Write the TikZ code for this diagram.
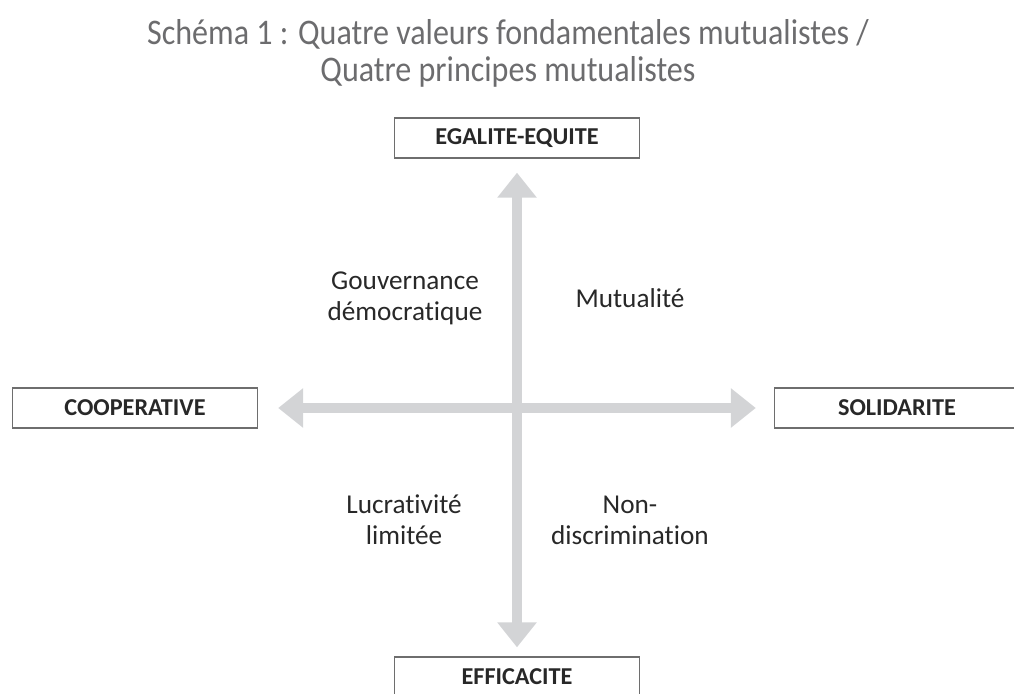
\documentclass[tikz,border=0pt]{standalone}
\usepackage{fontspec}
\setmainfont{Carlito}[Ligatures=NoCommon]
\newfontfamily\titlefont[FakeStretch=0.89,Ligatures=NoCommon]{Carlito}
\usepackage{xcolor}
\definecolor{axgray}{RGB}{211,212,214}
\definecolor{boxline}{RGB}{110,110,110}
\definecolor{titlegray}{RGB}{108,108,110}
\definecolor{txtdark}{RGB}{40,40,40}
\usetikzlibrary{arrows.meta,positioning}

\begin{document}
\begin{tikzpicture}[x=0.02cm, y=-0.02cm,
  valbox/.style={draw=boxline, line width=0.8pt, fill=white, minimum width=4.9cm, minimum height=0.8cm,
    inner sep=0pt, font=\fontsize{13.8}{15}\selectfont\bfseries, text=txtdark},
  princ/.style={align=center, font=\fontsize{15.5}{17.5}\selectfont, text=txtdark},
  axis/.style={axgray, line width=0.2cm, -{Triangle[width=0.76cm, length=0.5cm]}}]
\useasboundingbox (0,0) rectangle (1014,693);
\clip (0,0) rectangle (1014,693);
% Title
\node[align=center, text=titlegray, font=\titlefont\fontsize{20.5}{21}\selectfont] (title) at (508,53)
  {Schéma 1 : Quatre valeurs fondamentales mutualistes /\\Quatre principes mutualistes};
% Values
\node[valbox] (egal) at (517,138) {EGALITE-EQUITE};
\node[valbox] (coop) at (135,408) {COOPERATIVE};
\node[valbox] (solid) at (897,408) {SOLIDARITE};
\node[valbox] (effic) at (517,677) {EFFICACITE};
% Axes
\coordinate (ctr) at (517,408);
\draw[axis, shorten >=0.28cm] (ctr) -- (egal);
\draw[axis, shorten >=0.18cm] (ctr) -- (effic);
\draw[axis, shorten >=0.40cm] (ctr) -- (coop);
\draw[axis, shorten >=0.36cm] (ctr) -- (solid);
% Principles
\node[princ] (gouv) at (405,298) {Gouvernance\\démocratique};
\node[princ] (mutu) at (630,298) {Mutualité};
\node[princ] (lucr) at (404,520) {Lucrativité\\limitée};
\node[princ] (nond) at (630,520) {Non-\\discrimination};
\end{tikzpicture}
\end{document}
